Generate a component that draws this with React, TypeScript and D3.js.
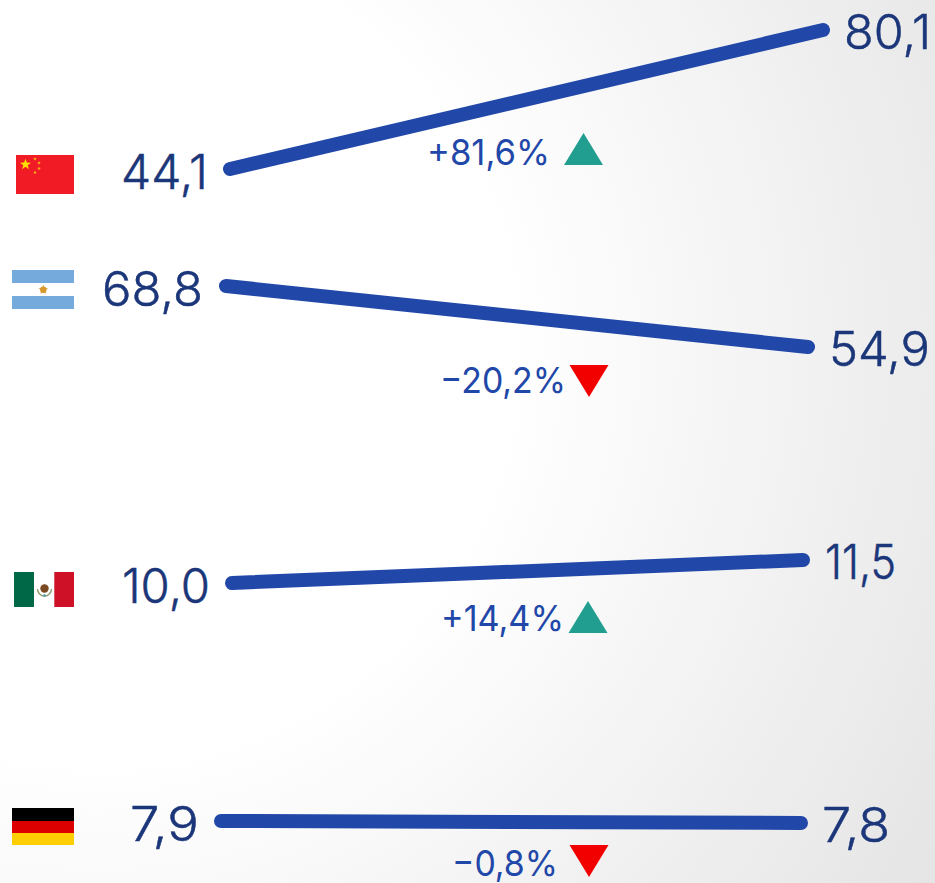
import React from "react";
import * as d3 from "d3";

const W = 935, H = 883;
const countries = ["China", "Argentina", "Mexico", "Germany"];
const startValues = [44.1, 68.8, 10.0, 7.9];
const endValues = [80.1, 54.9, 11.5, 7.8];
const changes = ["+81,6%", "−20,2%", "+14,4%", "−0,8%"];

// Each row has its own vertical placement in the original slope panel.
const valueDomain = [7.8, 7.9, 10.0, 11.5, 44.1, 54.9, 68.8, 80.1];
const pixelRange = [823, 821, 583, 560, 169, 347, 286, 30];
const y = d3.scaleLinear().domain(valueDomain).range(pixelRange);
const xStart = [230, 226, 232, 221];
const xEnd = [823, 808, 803, 801];
const startLabelLeft = [121, 102, 122, 130];
const startLabelWidth = [87, 101, 88, 69];
const endLabelLeft = [844, 829, 825, 822];
const endLabelWidth = [87, 101, 71, 68];
const changeLeft = [427, 440, 441, 452];
const changeWidth = [123, 126, 123, 106];
const changeY = [165, 393, 631, 876];
const triX = [583.5, 589, 588, 589];
const triTop = [133, 365, 601, 845];

const line = d3.line<[number, number]>();
const NAVY = "#1b3679", BLUE = "#2147a8", FONT = "Inter, 'Noto Sans', sans-serif";

function Triangle({ cx, top, up }: { cx: number; top: number; up: boolean }) {
  const h = 32, hw = 19.5;
  const pts: [number, number][] = up
    ? [[cx, top], [cx + hw, top + h], [cx - hw, top + h]]
    : [[cx - hw, top], [cx + hw, top], [cx, top + h]];
  return <path d={line(pts) + "Z"} fill={up ? "#219e90" : "#f20000"} />;
}

function Star({ cx, cy, r, fill = "#ffde00" }: { cx: number; cy: number; r: number; fill?: string }) {
  const pts = d3.range(10).map((i) => {
    const rad = i % 2 ? r * 0.4 : r;
    const a = -Math.PI / 2 + (i * Math.PI) / 5;
    return [cx + rad * Math.cos(a), cy + rad * Math.sin(a)] as [number, number];
  });
  return <path d={line(pts) + "Z"} fill={fill} />;
}

function Flags() {
  return (
    <g>
      <rect x={16} y={155} width={58} height={39} fill="#f11b26" />
      <Star cx={25.5} cy={164.5} r={5.8} />
      <Star cx={35} cy={159} r={2} fill="#f7b01a" />
      <Star cx={39} cy={163} r={2} fill="#f7b01a" />
      <Star cx={39} cy={168.5} r={2} fill="#f7b01a" />
      <Star cx={35} cy={172.5} r={2} fill="#f7b01a" />

      <rect x={12} y={270} width={62} height={39} fill="#ffffff" />
      <rect x={12} y={270} width={62} height={13} fill="#75aadd" />
      <rect x={12} y={296} width={62} height={13} fill="#75aadd" />
      <Star cx={43.3} cy={289.8} r={5} fill="#d8982c" />
      <circle cx={43.3} cy={289.8} r={3.2} fill="#d8982c" />

      <rect x={14} y={572} width={60} height={35} fill="#ffffff" />
      <rect x={14} y={572} width={20} height={35} fill="#006847" />
      <rect x={54.3} y={572} width={19.7} height={35} fill="#ce1126" />
      <path d="M37.5 589 A7 7 0 0 0 51.5 589" fill="none" stroke="#8b9c6a" strokeWidth={1.4} />
      <circle cx={44.5} cy={588.5} r={4.2} fill="#7b4a22" />
      <circle cx={44.5} cy={595.5} r={1.3} fill="#4a9aa8" />

      <rect x={12} y={808} width={62} height={13} fill="#000000" />
      <rect x={12} y={821} width={62} height={12} fill="#dd0000" />
      <rect x={12} y={833} width={62} height={12} fill="#ffce00" />
    </g>
  );
}

export default function App() {
  const fmt = (v: number) => v.toFixed(1).replace(".", ",");
  const valueText = {
    fontFamily: FONT,
    fontWeight: 300,
    fontSize: 48,
    fill: NAVY,
    stroke: NAVY,
    strokeWidth: 0.5,
    lengthAdjust: "spacingAndGlyphs" as const,
  };
  return (
    <svg
      width={W}
      height={H}
      viewBox={`0 0 ${W} ${H}`}
      style={{ position: "absolute", left: 0, top: 0, display: "block" }}
    >
      <defs>
        <radialGradient id="bg" gradientUnits="userSpaceOnUse" cx={100} cy={350} r={980}>
          <stop offset="0.42" stopColor="#ffffff" />
          <stop offset="1" stopColor="#e5e5e5" />
        </radialGradient>
      </defs>
      <rect width={W} height={H} fill="url(#bg)" />
      <Flags />
      {countries.map((c, i) => {
        const pts: [number, number][] = [
          [xStart[i], y(startValues[i])],
          [xEnd[i], y(endValues[i])],
        ];
        return (
          <g key={c}>
            <path d={line(pts)!} stroke={BLUE} strokeWidth={14} strokeLinecap="round" fill="none" />
            <text x={startLabelLeft[i]} y={y(startValues[i]) + 20} textLength={startLabelWidth[i]} {...valueText}>
              {fmt(startValues[i])}
            </text>
            <text x={endLabelLeft[i]} y={y(endValues[i]) + 19} textLength={endLabelWidth[i]} {...valueText}>
              {fmt(endValues[i])}
            </text>
            <text x={changeLeft[i]} y={changeY[i]} textLength={changeWidth[i]} lengthAdjust="spacingAndGlyphs" fontFamily={FONT} fontWeight={400} fontSize={36} fill={BLUE}>
              {changes[i]}
            </text>
            <Triangle cx={triX[i]} top={triTop[i]} up={changes[i][0] === "+"} />
          </g>
        );
      })}
    </svg>
  );
}
